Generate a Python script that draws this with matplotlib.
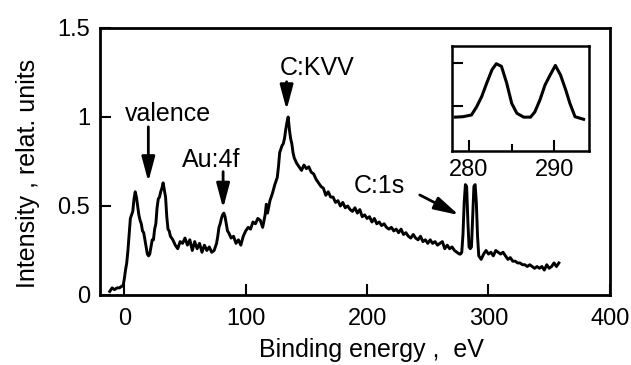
import matplotlib
matplotlib.use("Agg")
import matplotlib.pyplot as plt

plt.rcParams['font.family'] = ['Liberation Sans', 'DejaVu Sans']

# survey spectrum: binding energy (eV) vs intensity (relat. units)
energy = [-12, -10, -8, -6, -4, -2, -1, 0, 1, 2, 3, 4, 5, 6, 7, 8, 9, 10, 11, 12,
          13, 14, 15, 16, 17, 18, 19, 20, 21, 22, 23, 24, 25, 26, 27, 28, 29, 30,
          31, 32, 33, 34, 35, 36, 37, 38, 40, 42, 44, 46, 48, 50, 52, 54, 56, 58,
          60, 62, 64, 66, 68, 70, 72, 74, 76, 77, 78, 79, 80, 81, 82, 83, 84, 85,
          86, 88, 90, 92, 94, 96, 98, 100, 102, 104, 106, 108, 110, 112, 114, 116,
          117, 118, 120, 122, 124, 126, 127, 128, 129, 130, 131, 132, 133, 134,
          135, 136, 137, 138, 139, 140, 142, 144, 146, 148, 150, 152, 154, 156,
          158, 160, 162, 164, 166, 168, 170, 172, 174, 176, 178, 180, 182, 184,
          186, 188, 190, 192, 194, 196, 198, 200, 202, 204, 206, 208, 210, 212,
          214, 216, 218, 220, 222, 224, 226, 228, 230, 232, 234, 236, 238, 240,
          242, 244, 246, 248, 250, 252, 254, 256, 258, 260, 262, 264, 266, 268,
          270, 272, 274, 276, 277, 278, 279, 280, 281, 282, 283, 284, 285, 286,
          287, 288, 289, 290, 291, 292, 293, 294, 296, 298, 300, 302, 304, 306,
          308, 310, 312, 314, 316, 318, 320, 322, 324, 326, 328, 330, 332, 334,
          336, 338, 340, 342, 344, 346, 348, 350, 352, 354, 356, 358]
intensity = [0.02, 0.04, 0.03, 0.04, 0.04, 0.05, 0.05, 0.09, 0.14, 0.18, 0.25, 0.34,
             0.43, 0.45, 0.47, 0.54, 0.58, 0.55, 0.50, 0.45, 0.42, 0.40, 0.36, 0.35,
             0.31, 0.27, 0.23, 0.22, 0.23, 0.27, 0.31, 0.31, 0.37, 0.40, 0.49, 0.54,
             0.55, 0.58, 0.60, 0.63, 0.59, 0.55, 0.44, 0.37, 0.36, 0.33, 0.31, 0.28,
             0.26, 0.30, 0.29, 0.32, 0.28, 0.31, 0.25, 0.30, 0.26, 0.29, 0.24, 0.28,
             0.25, 0.27, 0.24, 0.25, 0.29, 0.33, 0.38, 0.40, 0.43, 0.45, 0.46, 0.44,
             0.40, 0.36, 0.35, 0.32, 0.33, 0.29, 0.31, 0.28, 0.33, 0.36, 0.38, 0.37,
             0.41, 0.40, 0.43, 0.42, 0.38, 0.45, 0.51, 0.46, 0.53, 0.57, 0.62, 0.66,
             0.72, 0.80, 0.82, 0.84, 0.85, 0.88, 0.93, 0.97, 1.00, 0.93, 0.88, 0.85,
             0.80, 0.77, 0.74, 0.72, 0.70, 0.73, 0.71, 0.72, 0.69, 0.68, 0.65, 0.63,
             0.61, 0.60, 0.56, 0.58, 0.55, 0.55, 0.52, 0.53, 0.50, 0.52, 0.49, 0.50,
             0.48, 0.47, 0.49, 0.46, 0.48, 0.44, 0.45, 0.43, 0.44, 0.41, 0.43, 0.40,
             0.41, 0.39, 0.40, 0.38, 0.37, 0.38, 0.36, 0.37, 0.35, 0.37, 0.34, 0.35,
             0.33, 0.32, 0.34, 0.32, 0.31, 0.33, 0.30, 0.31, 0.29, 0.31, 0.29, 0.30,
             0.28, 0.29, 0.30, 0.26, 0.28, 0.26, 0.27, 0.25, 0.24, 0.23, 0.23, 0.24,
             0.34, 0.52, 0.62, 0.61, 0.42, 0.27, 0.26, 0.27, 0.44, 0.61, 0.62, 0.52,
             0.33, 0.22, 0.21, 0.20, 0.23, 0.25, 0.23, 0.24, 0.22, 0.25, 0.24, 0.23,
             0.24, 0.22, 0.20, 0.21, 0.19, 0.19, 0.18, 0.18, 0.17, 0.17, 0.16, 0.17,
             0.16, 0.15, 0.16, 0.15, 0.16, 0.14, 0.17, 0.15, 0.16, 0.18, 0.16, 0.18]

# C:1s region, detail scan
c1s_energy = [278.4, 279.3, 280.3, 280.9, 281.5, 282.1, 282.7, 283.2, 283.8, 284.4,
              285.0, 285.6, 286.4, 287.2, 287.7, 288.3, 288.9, 289.5, 290.1, 290.7,
              291.3, 291.8, 292.4, 293.4]
c1s_intensity = [0.37, 0.375, 0.395, 0.49, 0.61, 0.77, 0.92, 0.99, 0.96, 0.77,
                 0.53, 0.415, 0.37, 0.37, 0.43, 0.57, 0.745, 0.86, 0.97, 0.86,
                 0.69, 0.53, 0.375, 0.345]

# peak labels: text, text position, arrow tail, arrow tip
peak_labels = ["valence", "Au:4f", "C:KVV", "C:1s"]
label_xy = [(35.6, 0.978), (71.9, 0.721), (159.0, 1.236), (210.5, 0.572)]
arrow_tail = [(19.8, 0.945), (81.4, 0.693), (133.7, 1.198), (243.4, 0.562)]
arrow_tip = [(19.8, 0.636), (81.4, 0.487), (133.7, 1.04), (275.7, 0.449)]

fig = plt.figure(figsize=(6.31, 3.65), dpi=100)
ax = fig.add_axes([0.1585, 0.1918, 0.808, 0.7315])
ax.plot(energy, intensity, color='black', lw=2.1)
ax.set_xlim(-20, 400)
ax.set_ylim(0, 1.5)
ax.set_xticks([0, 100, 200, 300, 400])
ax.set_yticks([0, 0.5, 1, 1.5])
ax.set_yticklabels(['0', '0.5', '1', '1.5'])
ax.tick_params(direction='in', length=8, width=1.5, labelsize=17)
ax.tick_params(axis='x', pad=9.5)
ax.tick_params(axis='y', pad=7)
for s in ax.spines.values():
    s.set_linewidth(2)

ax.set_xlabel('Binding energy ,  eV', fontsize=18)
ax.set_ylabel('Intensity , relat. units', fontsize=18)
ax.xaxis.set_label_coords(0.532, -0.16)
ax.yaxis.set_label_coords(-0.118, 0.455)

for txt, pos, tail, tip in zip(peak_labels, label_xy, arrow_tail, arrow_tip):
    ax.text(pos[0], pos[1], txt, fontsize=18, ha='center', va='baseline')
    ax.annotate('', xy=tip, xytext=tail,
                arrowprops=dict(arrowstyle='-|>,head_length=0.75,head_width=0.2',
                                color='black', lw=2,
                                mutation_scale=20, shrinkA=0, shrinkB=0))

# inset with the C:1s doublet
axi = fig.add_axes([0.716, 0.587, 0.217, 0.288])
axi.plot(c1s_energy, c1s_intensity, color='black', lw=2.2)
axi.set_xlim(278, 294)
axi.set_ylim(-0.02, 1.2)
axi.set_xticks([280, 290])
axi.set_xticks([285], minor=True)
axi.set_yticks([0.5, 1.0])
axi.set_yticklabels([])
axi.tick_params(direction='in', length=8, width=1.5, labelsize=17, pad=6)
axi.tick_params(which='minor', direction='in', length=5, width=1.5)
for s in axi.spines.values():
    s.set_linewidth(1.8)

fig.savefig('out.png', dpi=100)
